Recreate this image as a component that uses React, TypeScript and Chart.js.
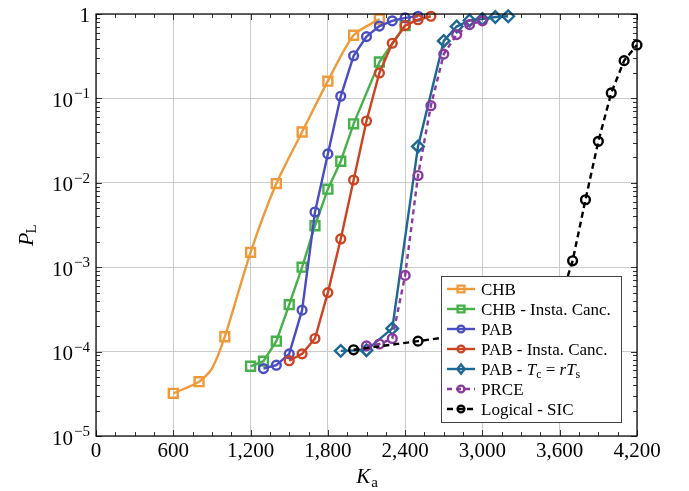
import React, { useEffect, useRef } from 'react';
import { Chart, registerables } from 'chart.js';

Chart.register(...registerables);

const SERIF = '"Liberation Serif", "Times New Roman", serif';

// Number of active users K_a and the resulting error probability P_L
const chbK = [600, 800, 900, 1000, 1200, 1400, 1600, 1800, 2000, 2200];
const chbP = [3.2e-5, 4.4e-5, 6.3e-5, 1.5e-4, 1.5e-3, 9.8e-3, 0.040, 0.16, 0.56, 0.87];
const chbUnmarked = [900];

const chbIcK = [1200, 1300, 1400, 1500, 1600, 1700, 1800, 1900, 2000, 2200, 2400];
const chbIcP = [6.7e-5, 7.7e-5, 1.33e-4, 3.6e-4, 1.0e-3, 3.1e-3, 8.4e-3, 0.018, 0.050, 0.27, 0.73];

const pabK = [1300, 1400, 1500, 1600, 1700, 1800, 1900, 2000, 2100, 2200, 2300, 2400, 2500];
const pabP = [6.3e-5, 6.9e-5, 9.4e-5, 3.1e-4, 4.5e-3, 0.022, 0.106, 0.32, 0.54, 0.72, 0.83, 0.90, 0.94];

const pabIcK = [1500, 1600, 1700, 1800, 1900, 2000, 2100, 2200, 2300, 2400, 2500, 2600];
const pabIcP = [7.8e-5, 9.4e-5, 1.43e-4, 5.0e-4, 2.16e-3, 0.0108, 0.054, 0.20, 0.45, 0.73, 0.855, 0.94];

const pabTcK = [1900, 2100, 2300, 2500, 2700, 2800, 2900, 3000, 3100, 3200];
const pabTcP = [1.02e-4, 1.04e-4, 1.88e-4, 0.027, 0.48, 0.71, 0.84, 0.87, 0.92, 0.94];

const prceK = [2100, 2200, 2300, 2400, 2500, 2600, 2700, 2800, 2900, 3000];
const prceP = [1.17e-4, 1.23e-4, 1.43e-4, 8.0e-4, 0.0122, 0.082, 0.335, 0.57, 0.75, 0.83];

const sicK = [2000, 2500, 3000, 3600, 3700, 3800, 3900, 4000, 4100, 4200];
const sicP = [1.05e-4, 1.33e-4, 1.7e-4, 3.9e-4, 1.19e-3, 6.3e-3, 0.031, 0.116, 0.28, 0.43];

// Axis ticks
const xMajorTicks = [0, 600, 1200, 1800, 2400, 3000, 3600, 4200];
const xTickLabels = ['0', '600', '1,200', '1,800', '2,400', '3,000', '3,600', '4,200'];
const yExponents = [0, -1, -2, -3, -4, -5];

type Marker = 'rect' | 'circle' | 'rectRot';
type LabelPart = { t: string; italic?: boolean; sub?: boolean };

interface Series {
  label: string;
  parts: LabelPart[];
  k: number[];
  p: number[];
  color: string;
  marker: Marker;
  dash: number[];
  smooth?: boolean;
  unmarked?: number[];
}

const series: Series[] = [
  { label: 'CHB', parts: [{ t: 'CHB' }], k: chbK, p: chbP, color: '#EE9A3A', marker: 'rect', dash: [], smooth: true, unmarked: chbUnmarked },
  { label: 'CHB - Insta. Canc.', parts: [{ t: 'CHB - Insta. Canc.' }], k: chbIcK, p: chbIcP, color: '#46B04A', marker: 'rect', dash: [] },
  { label: 'PAB', parts: [{ t: 'PAB' }], k: pabK, p: pabP, color: '#4A4DC0', marker: 'circle', dash: [] },
  { label: 'PAB - Insta. Canc.', parts: [{ t: 'PAB - Insta. Canc.' }], k: pabIcK, p: pabIcP, color: '#CC4322', marker: 'circle', dash: [] },
  {
    label: 'PAB - Tc = rTs',
    parts: [
      { t: 'PAB - ' }, { t: 'T', italic: true }, { t: 'c', sub: true }, { t: ' = ' },
      { t: 'rT', italic: true }, { t: 's', sub: true },
    ],
    k: pabTcK, p: pabTcP, color: '#1F6794', marker: 'rectRot', dash: [],
  },
  { label: 'PRCE', parts: [{ t: 'PRCE' }], k: prceK, p: prceP, color: '#8A3A9F', marker: 'circle', dash: [5, 4] },
  { label: 'Logical - SIC', parts: [{ t: 'Logical - SIC' }], k: sicK, p: sicP, color: '#000000', marker: 'circle', dash: [6, 4] },
];

const markerRadius: Record<Marker, number> = { rect: 6.3, circle: 4.4, rectRot: 5.8 };
const LINE_W = 2.4;

function drawMarker(ctx: CanvasRenderingContext2D, m: Marker, x: number, y: number, r: number) {
  ctx.beginPath();
  if (m === 'circle') {
    ctx.arc(x, y, r, 0, Math.PI * 2);
  } else if (m === 'rect') {
    const s = r * Math.SQRT1_2;
    ctx.rect(x - s, y - s, 2 * s, 2 * s);
  } else {
    ctx.moveTo(x - r * 0.8, y);
    ctx.lineTo(x, y - r);
    ctx.lineTo(x + r * 0.8, y);
    ctx.lineTo(x, y + r);
    ctx.closePath();
  }
  ctx.stroke();
}

function drawRich(ctx: CanvasRenderingContext2D, parts: LabelPart[], x: number, y: number, size: number) {
  let cx = x;
  for (const p of parts) {
    if (p.sub) {
      ctx.font = `${Math.round(size * 0.7)}px ${SERIF}`;
      ctx.fillText(p.t, cx, y + size * 0.2);
    } else {
      ctx.font = `${p.italic ? 'italic ' : ''}${size}px ${SERIF}`;
      ctx.fillText(p.t, cx, y);
    }
    cx += ctx.measureText(p.t).width;
  }
}

const decorPlugin = {
  id: 'decor',
  afterDraw(chart: any) {
    const { ctx, chartArea: a, scales } = chart;
    const xs = scales.x;
    const ys = scales.y;
    ctx.save();

    // inward tick marks on all four sides
    ctx.strokeStyle = '#333';
    ctx.lineWidth = 1;
    ctx.setLineDash([]);
    ctx.beginPath();
    for (let v = 0; v <= 4200; v += 150) {
      const px = Math.round(xs.getPixelForValue(v)) + 0.5;
      const len = v % 600 === 0 ? 6 : 4;
      ctx.moveTo(px, a.bottom);
      ctx.lineTo(px, a.bottom - len);
      ctx.moveTo(px, a.top);
      ctx.lineTo(px, a.top + len);
    }
    for (let e = -5; e <= 0; e++) {
      for (let m = 1; m <= 9; m++) {
        if (e === 0 && m > 1) break;
        const py = Math.round(ys.getPixelForValue(m * Math.pow(10, e))) + 0.5;
        const len = m === 1 ? 6 : 4;
        ctx.moveTo(a.left, py);
        ctx.lineTo(a.left + len, py);
        ctx.moveTo(a.right, py);
        ctx.lineTo(a.right - len, py);
      }
    }
    ctx.stroke();

    // plot frame
    ctx.strokeStyle = '#000';
    ctx.lineWidth = 1.2;
    ctx.strokeRect(a.left, a.top, a.right - a.left, a.bottom - a.top);

    // x tick labels
    ctx.fillStyle = '#000';
    ctx.font = `21px ${SERIF}`;
    ctx.textAlign = 'center';
    ctx.textBaseline = 'alphabetic';
    xMajorTicks.forEach((v, i) => {
      ctx.fillText(xTickLabels[i], xs.getPixelForValue(v), a.bottom + 21);
    });

    // y tick labels: powers of ten
    ctx.textAlign = 'left';
    const rightEdge = a.left - 6;
    yExponents.forEach((e) => {
      const py = ys.getPixelForValue(Math.pow(10, e));
      if (e === 0) {
        ctx.font = `21px ${SERIF}`;
        const w = ctx.measureText('1').width;
        ctx.fillText('1', rightEdge - w, py + 7.5);
        return;
      }
      const sup = '\u2212' + String(-e);
      ctx.font = `15px ${SERIF}`;
      const sw = ctx.measureText(sup).width;
      ctx.font = `21px ${SERIF}`;
      const bw = ctx.measureText('10').width;
      const x0 = rightEdge - sw - bw - 1;
      ctx.fillText('10', x0, py + 8.5);
      ctx.font = `15px ${SERIF}`;
      ctx.fillText(sup, x0 + bw + 1, py);
    });

    // axis titles
    const midX = (a.left + a.right) / 2;
    ctx.font = `italic 21px ${SERIF}`;
    const kw = ctx.measureText('K').width;
    ctx.font = `15px ${SERIF}`;
    const aw = ctx.measureText('a').width;
    const kx = midX - (kw + aw) / 2;
    ctx.font = `italic 21px ${SERIF}`;
    ctx.fillText('K', kx, a.bottom + 47);
    ctx.font = `15px ${SERIF}`;
    ctx.fillText('a', kx + kw + 1, a.bottom + 51);

    ctx.save();
    ctx.translate(33, 246);
    ctx.rotate(-Math.PI / 2);
    ctx.font = `italic 22px ${SERIF}`;
    const pw = ctx.measureText('P').width;
    ctx.fillText('P', 0, 0);
    ctx.font = `15px ${SERIF}`;
    ctx.fillText('L', pw - 1, 3);
    ctx.restore();

    // legend
    const lx = 441, ly = 276, lw = 180, lh = 146;
    ctx.fillStyle = '#fff';
    ctx.fillRect(lx, ly, lw, lh);
    ctx.strokeStyle = '#444';
    ctx.lineWidth = 1;
    ctx.strokeRect(lx + 0.5, ly + 0.5, lw, lh);
    series.forEach((s, i) => {
      const cy = ly + 13 + i * 20;
      ctx.strokeStyle = s.color;
      ctx.lineWidth = LINE_W;
      ctx.setLineDash(s.dash);
      ctx.beginPath();
      ctx.moveTo(lx + 6, cy);
      ctx.lineTo(lx + 34, cy);
      ctx.stroke();
      ctx.setLineDash([]);
      const r = s.marker === 'rect' ? 4.8 : s.marker === 'circle' ? 3.4 : 4.6;
      drawMarker(ctx, s.marker, lx + 20, cy, r);
      ctx.fillStyle = '#000';
      drawRich(ctx, s.parts, lx + 40, cy + 6, 17);
    });

    ctx.restore();
  },
};

export default function App() {
  const canvasRef = useRef<HTMLCanvasElement | null>(null);

  useEffect(() => {
    document.body.style.margin = '0';
    const canvas = canvasRef.current;
    if (!canvas) return;

    const datasets = series.map((s, i) => ({
      label: s.label,
      data: s.k.map((k, j) => ({ x: k, y: s.p[j] })),
      borderColor: s.color,
      backgroundColor: 'rgba(0,0,0,0)',
      borderWidth: LINE_W,
      borderDash: s.dash,
      pointStyle: s.marker,
      pointRadius: (c: any) =>
        s.unmarked && c.raw && s.unmarked.includes(c.raw.x) ? 0 : markerRadius[s.marker],
      pointBorderWidth: LINE_W,
      pointBorderColor: s.color,
      pointBackgroundColor: 'rgba(0,0,0,0)',
      tension: s.smooth ? 0.25 : 0,
      clip: 10,
      order: series.length - i,
    }));

    const chart = new Chart(canvas, {
      type: 'line',
      data: { datasets },
      options: {
        animation: false,
        responsive: false,
        devicePixelRatio: 1,
        layout: { autoPadding: false, padding: { top: 14, right: 52, left: 0, bottom: 0 } },
        plugins: { legend: { display: false }, tooltip: { enabled: false } },
        events: [],
        scales: {
          x: {
            type: 'linear',
            min: 0,
            max: 4200,
            ticks: { display: false, stepSize: 600 },
            grid: { color: '#cbcbcb', lineWidth: 1, drawTicks: false },
            border: { display: false },
            afterFit: (s: any) => {
              s.height = 55;
            },
          },
          y: {
            type: 'logarithmic',
            min: 1e-5,
            max: 1,
            ticks: { display: false },
            grid: {
              drawTicks: false,
              lineWidth: 1,
              color: (c: any) => {
                const v = c.tick ? c.tick.value : 0;
                const lg = Math.log10(v);
                return Math.abs(lg - Math.round(lg)) < 1e-6 ? '#cbcbcb' : 'rgba(0,0,0,0)';
              },
            },
            border: { display: false },
            afterFit: (s: any) => {
              s.width = 96;
            },
          },
        },
      },
      plugins: [decorPlugin],
    });

    return () => chart.destroy();
  }, []);

  return (
    <div style={{ width: 689, height: 491 }}>
      <canvas ref={canvasRef} width={689} height={491} style={{ display: 'block' }} />
    </div>
  );
}
